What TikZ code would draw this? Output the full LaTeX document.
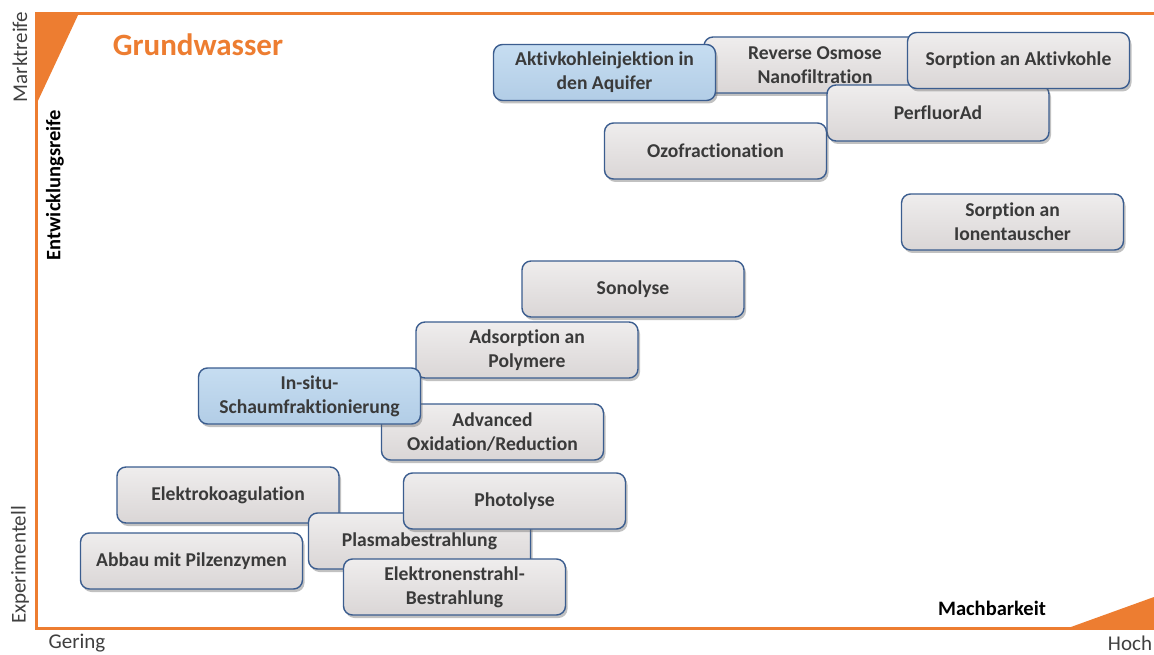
\documentclass[tikz,border=0pt]{standalone}
\usepackage{fontspec}
\setmainfont{Carlito}[Ligatures={NoCommon}]
\usetikzlibrary{shadows}
\definecolor{orng}{HTML}{ED7D31}
\definecolor{bordr}{HTML}{3B5D8F}
\definecolor{txtc}{HTML}{3A3A3A}
\definecolor{gtop}{HTML}{EFEDED}
\definecolor{gbot}{HTML}{DAD6D6}
\definecolor{btop}{HTML}{C6DDF1}
\definecolor{bbot}{HTML}{B2CDE6}
\definecolor{axtxt}{HTML}{404040}
\tikzset{
  techbox/.style={draw=bordr, line width=1.4pt, rounded corners=9pt,
    top color=gtop, bottom color=gbot, minimum width=222pt, minimum height=56pt,
    align=center, inner sep=2pt, text=txtc,
    font=\fontsize{19.6}{24}\selectfont\bfseries,
    drop shadow={shadow xshift=2pt, shadow yshift=-3pt, opacity=0.4, fill=black!60}},
  bluebox/.style={techbox, top color=btop, bottom color=bbot},
  axlabel/.style={text=axtxt, font=\fontsize{21}{24}\selectfont, inner sep=0pt},
  axbold/.style={text=black, font=\fontsize{20.5}{24}\selectfont\bfseries, inner sep=0pt},
}
\begin{document}
\begin{tikzpicture}[x=1pt,y=-1pt]
\useasboundingbox[fill=white] (0,0) rectangle (1154,655);
% frame
\draw[orng, line width=3pt] (1154,14) -- (36,14) -- (36,628) -- (1154,628);
\fill[orng] (36,13) -- (79,13) -- (36,105) -- cycle;
\fill[orng] (1064,629.5) -- (1154,597) -- (1154,629.5) -- cycle;
% axis labels
\node[axlabel, rotate=90] (markt) at (20,57) {Marktreife};
\node[axbold, rotate=90] (entw) at (55,185) {Entwicklungsreife};
\node[axlabel, rotate=90] (exper) at (20,565) {Experimentell};
\node[axlabel] (gering) at (77,643) {Gering};
\node[axlabel] (hoch) at (1130,643) {Hoch};
\node[axbold] (machb) at (992,608) {Machbarkeit};
\node[text=orng, font=\fontsize{31}{36}\selectfont\bfseries, inner sep=0pt] (title) at (198,45) {Grundwasser};
% boxes (drawing order for overlaps)
\node[techbox] (revosm) at (815,65) {Reverse Osmose\\Nanofiltration};
\node[bluebox] (aktinj) at (604.5,72.5) {Aktivkohleinjektion in\\den Aquifer};
\node[techbox] (perfl) at (938,113) {PerfluorAd};
\node[techbox] (sorpak) at (1018.5,60.5) {Sorption an Aktivkohle};
\node[techbox] (ozof) at (715.5,151) {Ozofractionation};
\node[techbox] (sorpion) at (1012.5,222) {Sorption an\\Ionentauscher};
\node[techbox] (sono) at (633,289) {Sonolyse};
\node[techbox] (advox) at (492.5,432) {Advanced\\Oxidation/Reduction};
\node[techbox] (adspol) at (527,350) {Adsorption an\\Polymere};
\node[bluebox] (insitu) at (309.5,396) {In-situ-\\Schaumfraktionierung};
\node[techbox] (elko) at (228,495) {Elektrokoagulation};
\node[techbox] (plasma) at (419.5,541) {Plasmabestrahlung};
\node[techbox] (photo) at (514.5,501) {Photolyse};
\node[techbox] (abbau) at (191.5,561) {Abbau mit Pilzenzymen};
\node[techbox] (elstr) at (454.5,587) {Elektronenstrahl-\\Bestrahlung};
\end{tikzpicture}
\end{document}
